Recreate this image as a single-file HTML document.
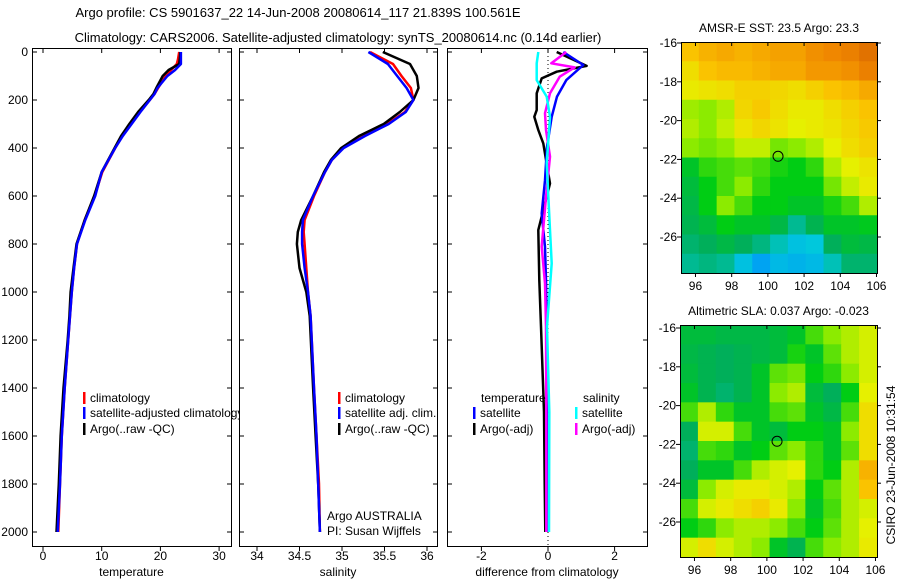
<!DOCTYPE html>
<html><head><meta charset="utf-8"><style>
body{margin:0;background:#fff}
svg{display:block;font-family:"Liberation Sans",sans-serif;font-size:12px}
</style></head><body>
<svg id="c" width="900" height="580" xmlns="http://www.w3.org/2000/svg">
<text x="298" y="17" text-anchor="middle" font-size="13">Argo profile: CS 5901637_22 14-Jun-2008 20080614_117 21.839S 100.561E</text>
<text x="338" y="42" text-anchor="middle" font-size="13">Climatology: CARS2006. Satellite-adjusted climatology: synTS_20080614.nc (0.14d earlier)</text>
<g id="g"></g>
</svg>
<script>
// ---------- data ----------
const tDepth=[0,30,50,75,100,150,175,200,250,300,350,400,500,600,700,800,900,1000,1100,1200,1400,1600,1800,2000];
const tClim=[23.2,23.0,22.8,21.8,20.9,19.6,19.0,18.2,16.5,15.0,13.5,12.3,10.1,8.8,7.1,5.8,5.3,4.9,4.6,4.3,3.7,3.2,2.9,2.6];
const tSat=[23.5,23.5,23.5,22.5,21.2,19.5,19.0,18.2,16.6,15.1,13.6,12.3,10.0,8.9,7.2,5.8,5.3,4.9,4.6,4.3,3.7,3.2,2.9,2.5];
const tArgo=[23.4,23.3,23.2,21.4,20.4,19.3,18.8,18.0,16.2,14.7,13.3,12.2,10.0,8.7,7.1,5.7,5.2,4.7,4.5,4.2,3.5,3.0,2.7,2.3];
const sDepth=[0,50,100,150,200,250,300,350,400,450,500,600,700,750,800,900,1000,1100,1400,1600,1800,2000];
const sClim=[35.33,35.60,35.70,35.81,35.84,35.74,35.53,35.26,35.01,34.88,34.80,34.67,34.56,34.55,34.56,34.58,34.60,34.63,34.67,34.70,34.73,34.74];
const sSat=[35.31,35.54,35.65,35.76,35.84,35.75,35.55,35.27,35.02,34.88,34.80,34.66,34.54,34.53,34.53,34.56,34.60,34.63,34.67,34.70,34.72,34.74];
const sArgo=[35.48,35.80,35.88,35.90,35.84,35.68,35.49,35.20,34.99,34.87,34.79,34.66,34.52,34.48,34.47,34.50,34.58,34.62,34.66,34.69,34.72,34.74];
const dBlueDepth=[0,54,117,186,270,395,534,673,812,951,1146,1500,1800,2000];
const dBlue=[0.46,1.06,0.55,0.27,0.11,-0.03,-0.09,-0.19,-0.09,-0.06,-0.04,-0.03,-0.02,0.0];
const dBlackDepth=[0,58,82,110,172,242,270,325,381,548,742,951,1144,1500,1800,2000];
const dBlack=[0.26,1.16,0.26,-0.19,-0.34,-0.34,-0.41,-0.29,-0.14,0.06,-0.29,-0.26,-0.21,-0.12,-0.1,-0.08];
const dCyanDepth=[0,47,117,186,270,464,742,881,1144,1500,2000];
const dCyan=[-0.29,-0.34,-0.34,-0.04,0.06,-0.04,0.06,0.11,-0.03,0.04,0.03];
const dMagDepth=[0,47,64,103,172,255,325,436,603,811,964,1144,1500,2000];
const dMag=[0.55,0.10,0.80,0.35,0.06,-0.09,-0.06,0.06,-0.06,-0.19,-0.09,-0.06,-0.05,-0.05];
const depthTicks=[0,200,400,600,800,1000,1200,1400,1600,1800,2000];
const tTicks=[0,10,20,30];
const sTicks=[34,34.5,35,35.5,36];
const dTicks=[-2,0,2];
const lonTicks=[96,98,100,102,104,106];
const latTicks=[-16,-18,-20,-22,-24,-26];
const sstGrid=[
[0.70,0.72,0.73,0.72,0.73,0.74,0.74,0.76,0.77,0.78,0.80],
[0.66,0.70,0.71,0.71,0.72,0.73,0.73,0.75,0.75,0.76,0.78],
[0.64,0.65,0.66,0.68,0.68,0.67,0.66,0.68,0.70,0.71,0.73],
[0.59,0.58,0.60,0.67,0.69,0.66,0.64,0.64,0.66,0.68,0.70],
[0.60,0.58,0.61,0.65,0.67,0.65,0.63,0.64,0.65,0.67,0.69],
[0.58,0.57,0.58,0.61,0.61,0.57,0.58,0.60,0.63,0.66,0.68],
[0.50,0.54,0.55,0.56,0.55,0.53,0.52,0.54,0.60,0.63,0.65],
[0.48,0.52,0.55,0.58,0.54,0.52,0.52,0.52,0.57,0.61,0.64],
[0.47,0.52,0.58,0.55,0.52,0.52,0.50,0.50,0.53,0.55,0.60],
[0.46,0.48,0.52,0.50,0.50,0.47,0.42,0.46,0.50,0.50,0.51],
[0.44,0.45,0.47,0.45,0.43,0.40,0.37,0.38,0.45,0.48,0.47],
[0.42,0.43,0.42,0.37,0.33,0.36,0.35,0.36,0.40,0.44,0.44]];
const slaGrid=[
[0.48,0.48,0.47,0.47,0.47,0.48,0.50,0.55,0.58,0.60,0.62],
[0.47,0.46,0.45,0.46,0.47,0.48,0.53,0.50,0.56,0.60,0.62],
[0.48,0.46,0.45,0.46,0.50,0.56,0.57,0.52,0.54,0.58,0.62],
[0.50,0.46,0.44,0.46,0.50,0.58,0.60,0.48,0.45,0.52,0.63],
[0.55,0.60,0.54,0.50,0.50,0.55,0.56,0.50,0.47,0.55,0.66],
[0.45,0.62,0.62,0.55,0.50,0.48,0.52,0.52,0.50,0.58,0.66],
[0.44,0.55,0.54,0.50,0.52,0.56,0.58,0.54,0.50,0.56,0.66],
[0.45,0.50,0.50,0.55,0.60,0.62,0.63,0.54,0.52,0.60,0.72],
[0.48,0.58,0.62,0.64,0.64,0.62,0.60,0.52,0.56,0.60,0.70],
[0.55,0.62,0.64,0.66,0.68,0.64,0.58,0.50,0.55,0.60,0.62],
[0.52,0.54,0.58,0.60,0.60,0.58,0.55,0.52,0.56,0.60,0.63],
[0.62,0.66,0.62,0.60,0.58,0.50,0.46,0.55,0.58,0.60,0.64]];
const floatLon=100.561, floatLat=-21.839;

// ---------- helpers ----------
const NS='http://www.w3.org/2000/svg', G=document.getElementById('g');
function el(tag,attrs,parent){const e=document.createElementNS(NS,tag);for(const k in attrs)e.setAttribute(k,attrs[k]);(parent||G).appendChild(e);return e;}
function txt(x,y,s,anchor,parent){const t=el('text',{x:x,y:y,'text-anchor':anchor||'start'},parent);t.textContent=s;return t;}
const yD=d=>52+d*0.24;
const panels=[
 {x0:32,x1:231,xf:v=>43+v*5.87,ticks:tTicks,label:'temperature',name:'temperature-panel'},
 {x0:239,x1:437,xf:v=>257+(v-34)*85,ticks:sTicks,label:'salinity',name:'salinity-panel'},
 {x0:447,x1:647,xf:v=>548+v*33.3,ticks:dTicks,label:'difference from climatology',name:'difference-panel'}];
const PT=48,PB=546;
function line(p,depths,vals,color,name,w){
 const pts=depths.map((d,i)=>p.xf(vals[i]).toFixed(1)+','+yD(d).toFixed(1)).join(' ');
 const l=el('polyline',{points:pts,fill:'none',stroke:color,'stroke-width':w||2.5,'stroke-linejoin':'round'});
 
 
}
function panelFrame(p,i){
 const r=el('rect',{x:p.x0+0.5,y:PT+0.5,width:p.x1-p.x0,height:PB-PT,fill:'#fff',stroke:'#000','stroke-width':1});
 
 
 depthTicks.forEach(d=>{
  el('line',{x1:p.x0,x2:p.x0+5,y1:yD(d),y2:yD(d),stroke:'#000'});
  el('line',{x1:p.x1-4,x2:p.x1,y1:yD(d),y2:yD(d),stroke:'#000'});
  if(i===0){const t=txt(28,yD(d)+4,String(d),'end');}
 });
 p.ticks.forEach(v=>{
  const x=p.xf(v);
  el('line',{x1:x,x2:x,y1:PT,y2:PT+5,stroke:'#000'});
  el('line',{x1:x,x2:x,y1:PB,y2:PB+5,stroke:'#000'});
  const t=txt(x,560,String(v),'middle');
  
  
 });
 const xl=txt((p.x0+p.x1)/2,576,p.label,'middle');
 
 
}
function legend(x,y,color,label){
 el('rect',{x:x,y:y-10,width:2.5,height:12,fill:color});
 const t=txt(x+7,y,label);
 
 
}

// panel 1
panelFrame(panels[0],0);
line(panels[0],tDepth,tClim,'#f00','temperature-climatology-line');
line(panels[0],tDepth,tArgo,'#000','temperature-argo-line');
line(panels[0],tDepth,tSat,'#00f','temperature-satellite-line');
legend(83,402,'#f00','climatology');
legend(83,417,'#00f','satellite-adjusted climatology');
legend(83,433,'#000','Argo(..raw -QC)');
// panel 2
panelFrame(panels[1],1);
line(panels[1],sDepth,sClim,'#f00','salinity-climatology-line');
line(panels[1],sDepth,sArgo,'#000','salinity-argo-line');
line(panels[1],sDepth,sSat,'#00f','salinity-satellite-line');
legend(338,402,'#f00','climatology');
legend(338,417,'#00f','satellite adj. clim.');
legend(338,433,'#000','Argo(..raw -QC)');
txt(327,520,'Argo AUSTRALIA');
txt(327,535,'PI: Susan Wijffels');
// panel 3
panelFrame(panels[2],2);
el('line',{x1:548,x2:548,y1:PT,y2:PB,stroke:'#000','stroke-dasharray':'1,3'});
line(panels[2],dBlackDepth,dBlack,'#000','temperature-argo-diff-line');
line(panels[2],dBlueDepth,dBlue,'#00f','temperature-satellite-diff-line');
line(panels[2],dMagDepth,dMag,'#f0f','salinity-argo-diff-line');
line(panels[2],dCyanDepth,dCyan,'#0ff','salinity-satellite-diff-line');
txt(481,402,'temperature');
txt(583,402,'salinity');
legend(473,417,'#00f','satellite');
legend(473,433,'#000','Argo(-adj)');
legend(575,417,'#0ff','satellite');
legend(575,433,'#f0f','Argo(-adj)');

// maps
const stops=[[0.30,[0,140,255]],[0.38,[0,200,220]],[0.45,[0,175,90]],[0.52,[0,205,20]],[0.58,[140,235,0]],[0.63,[230,240,0]],[0.70,[250,195,0]],[0.77,[240,135,0]],[0.85,[200,80,0]]];
function cmap(v){
 if(v<=stops[0][0])return 'rgb('+stops[0][1]+')';
 for(let i=1;i<stops.length;i++){if(v<=stops[i][0]){const a=stops[i-1],b=stops[i],f=(v-a[0])/(b[0]-a[0]);return 'rgb('+a[1].map((c,k)=>Math.round(c+(b[1][k]-c)*f)).join(',')+')';}}
 return 'rgb('+stops[stops.length-1][1]+')';
}
function map(m){
 const lonX=l=>m.x0+(l-95.2)*18.1, latY=la=>m.yTop+(-la-16)*19.4;
 const rows=m.grid.length, cols=m.grid[0].length;
 const cw=(m.x1-m.x0)/cols, ch=(m.y1-m.yFrame)/rows;
 m.grid.forEach((row,r)=>row.forEach((v,c)=>{
  const cell=el('rect',{x:(m.x0+c*cw).toFixed(2),y:(m.yFrame+r*ch).toFixed(2),width:(cw+0.6).toFixed(2),height:(ch+0.6).toFixed(2),fill:cmap(v)});
  
  
 }));
 const fr=el('rect',{x:m.x0+0.5,y:m.yFrame+0.5,width:m.x1-m.x0,height:m.y1-m.yFrame,fill:'none',stroke:'#000'});
 
 
 lonTicks.forEach(l=>{const x=lonX(l);el('line',{x1:x,x2:x,y1:m.yFrame,y2:m.yFrame+4,stroke:'#000'});el('line',{x1:x,x2:x,y1:m.y1,y2:m.y1+4,stroke:'#000'});
  const t=txt(x,m.y1+17,String(l),'middle');});
 latTicks.forEach(la=>{const y=latY(la);el('line',{x1:m.x0-4,x2:m.x0,y1:y,y2:y,stroke:'#000'});el('line',{x1:m.x1,x2:m.x1+4,y1:y,y2:y,stroke:'#000'});
  const t=txt(m.x0-4,y+4,String(la),'end');});
 const mk=el('circle',{cx:lonX(floatLon),cy:latY(floatLat),r:5,fill:'none',stroke:'#000','stroke-width':1});
 
 
 const tt=txt((m.x0+m.x1)/2,m.yFrame-10,m.title,'middle');
 
 
}
map({x0:681,x1:877,yFrame:42,y1:273,yTop:43,grid:sstGrid,title:'AMSR-E SST: 23.5 Argo: 23.3',name:'sst-map'});
map({x0:680,x1:877,yFrame:325,y1:557,yTop:328,grid:slaGrid,title:'Altimetric SLA: 0.037 Argo: -0.023',name:'sla-map'});
const stamp=txt(0,0,'CSIRO 23-Jun-2008 10:31:54','middle');
stamp.setAttribute('transform','translate(895,465) rotate(-90)');


</script>
</body></html>
